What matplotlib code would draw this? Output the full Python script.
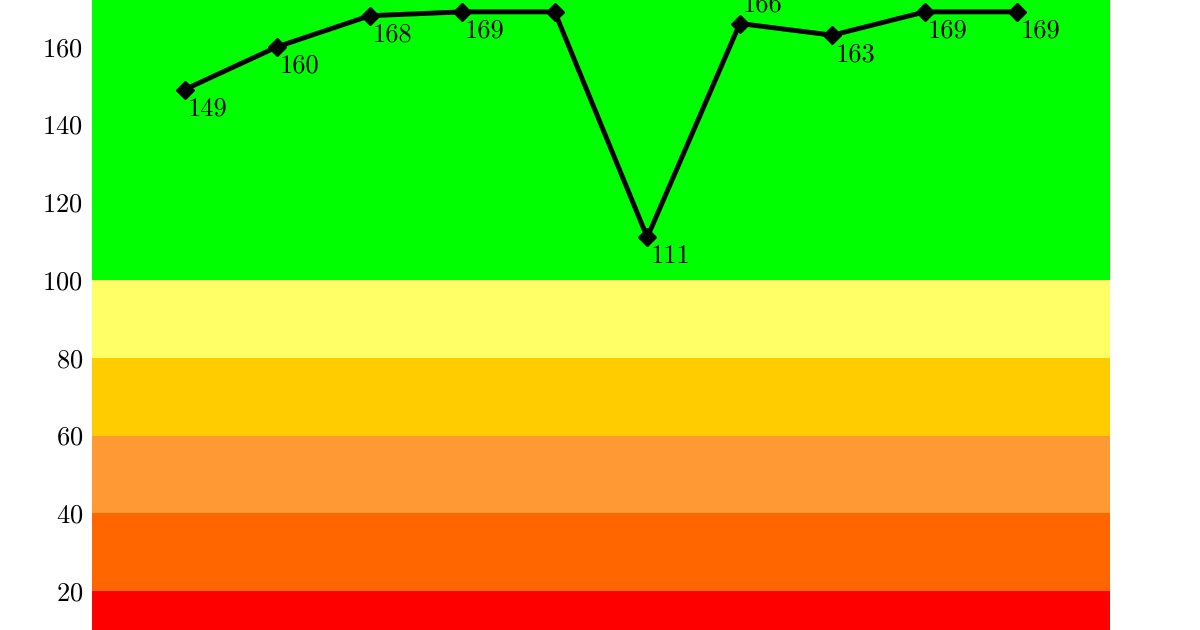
import matplotlib
matplotlib.use("Agg")
import matplotlib.pyplot as plt

values = [149, 160, 168, 169, 169, 111, 166, 163, 169, 169]
labels = ["149", "160", "168", "169", "", "111", "166", "163", "169", "169"]
label_above = [False, False, False, False, False, False, True, False, False, False]
yticks = [20, 40, 60, 80, 100, 120, 140, 160]

bands = [(0, 20, "#FF0000"), (20, 40, "#FF6600"), (40, 60, "#FF9933"),
         (60, 80, "#FFCC00"), (80, 100, "#FFFF66"), (100, 200, "#00FF00")]

plt.rcParams['font.family'] = ['cmr10', 'DejaVu Serif']
plt.rcParams['axes.formatter.use_mathtext'] = True

fig = plt.figure(figsize=(12, 6.3), dpi=100)
ax = fig.add_axes([92/1200, 0, (1110-92)/1200, 1])

for lo, hi, c in bands:
    ax.axhspan(lo, hi, color=c, lw=0, zorder=0)

x = list(range(len(values)))
ax.plot(x, values, color="black", lw=3.5, marker="D", ms=9, zorder=3)

for xi, v, lab, above in zip(x, values, labels, label_above):
    if not lab:
        continue
    dy = 19 if above else -19
    ax.annotate(lab, (xi, v), xytext=(3, dy), textcoords="offset pixels",
                ha="left", va="center", fontsize=19, color="black", zorder=4,
                annotation_clip=False)

ax.set_xlim(-1, 10)
ax.set_ylim(10, 172.05)
ax.set_yticks(yticks)
ax.set_xticks([])
ax.tick_params(axis="y", length=0, pad=6.5, labelsize=19)
for s in ax.spines.values():
    s.set_visible(False)

fig.savefig("out.png", dpi=100)
